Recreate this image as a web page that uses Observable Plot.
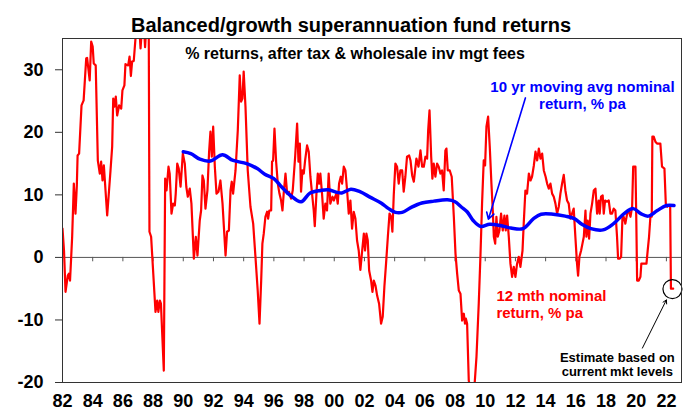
<!DOCTYPE html>
<html><head><meta charset="utf-8">
<script src="https://cdn.jsdelivr.net/npm/d3@7"></script>
<script src="https://cdn.jsdelivr.net/npm/@observablehq/plot@0.6"></script>
<style>
html,body{margin:0;padding:0;background:#fff;}
#chart svg{display:block;}
</style></head><body><div id="chart"></div>
<script>
// 12 month nominal return, % pa  [year, value]
const returns12m = [
[1982.00,4.6],[1982.10,1.1],[1982.20,-5.5],[1982.35,-2.9],[1982.42,-2.6],[1982.50,-3.7],[1982.64,3.3],[1982.75,11.8],[1982.86,7.0],[1982.95,11.5],
[1983.00,16.3],[1983.10,16.6],[1983.26,24.3],[1983.40,25.1],[1983.57,31.8],[1983.63,31.9],[1983.80,28.3],[1983.90,34.5],[1984.00,33.7],[1984.07,31.0],
[1984.20,30.7],[1984.34,15.5],[1984.47,13.4],[1984.56,15.3],[1984.65,12.3],[1984.74,14.7],[1984.96,6.7],[1985.18,13.9],[1985.29,17.7],[1985.36,25.4],
[1985.44,24.1],[1985.53,25.7],[1985.62,22.7],[1985.75,24.3],[1985.89,23.8],[1985.97,26.7],[1986.10,27.5],[1986.17,30.9],[1986.35,30.7],[1986.44,32.1],
[1986.53,29.0],[1986.61,31.3],[1986.72,31.4],[1986.85,35.5],[1986.95,39],[1987.08,37],[1987.17,33.4],[1987.27,37],[1987.37,38],[1987.47,33.6],
[1987.55,37],[1987.65,40],[1987.71,38],[1987.76,4.1],[1987.87,3.3],[1988.16,-8.7],[1988.27,-6.9],[1988.35,-8.7],[1988.45,-6.9],[1988.52,-7.4],
[1988.71,-18.1],[1988.80,12.6],[1988.89,10.7],[1989.02,14.5],[1989.10,13.4],[1989.22,7.0],[1989.33,8.6],[1989.44,8.3],[1989.50,10.2],[1989.60,15.0],
[1989.70,14.2],[1989.82,11.3],[1989.97,16.6],[1990.10,15.0],[1990.20,11.3],[1990.30,9.7],[1990.43,11.0],[1990.54,8.6],[1990.70,-0.2],[1990.83,3.3],
[1990.94,0.3],[1991.09,5.9],[1991.18,7.5],[1991.27,13.1],[1991.36,12.3],[1991.47,7.8],[1991.60,10.7],[1991.71,16.9],[1991.80,20.1],[1991.89,16.1],
[1991.98,20.9],[1992.09,14.5],[1992.20,10.2],[1992.33,10.5],[1992.46,12.3],[1992.60,8.6],[1992.80,0.3],[1992.90,4.1],[1993.02,4.3],[1993.13,10.7],
[1993.21,12.1],[1993.30,10.2],[1993.46,13.9],[1993.61,20.3],[1993.74,29.1],[1993.83,24.9],[1993.92,25.4],[1994.00,29.7],[1994.12,24.1],[1994.27,13.9],
[1994.45,8.1],[1994.63,5.4],[1994.78,0.1],[1994.93,-5.3],[1995.05,-10.6],[1995.16,-3.7],[1995.24,2.2],[1995.33,3.8],[1995.44,6.5],[1995.55,7.3],
[1995.62,6.2],[1995.70,7.5],[1995.82,7.5],[1995.88,15.3],[1995.95,15.5],[1996.04,20.6],[1996.15,15.3],[1996.26,11.8],[1996.37,10.2],[1996.48,9.1],
[1996.57,7.5],[1996.65,10.2],[1996.77,13.4],[1996.88,10.2],[1997.00,10.5],[1997.14,9.4],[1997.25,10.7],[1997.41,16.1],[1997.54,21.4],[1997.63,15.3],
[1997.72,18.2],[1997.80,10.5],[1997.89,13.9],[1997.98,13.4],[1998.07,15.5],[1998.20,17.9],[1998.31,16.9],[1998.42,12.9],[1998.53,10.2],[1998.64,7.5],
[1998.71,5.0],[1998.82,10.2],[1998.91,13.4],[1999.00,11.8],[1999.08,13.4],[1999.19,10.2],[1999.30,6.2],[1999.41,8.6],[1999.52,7.5],[1999.63,13.4],
[1999.74,8.6],[1999.88,9.7],[1999.97,9.1],[2000.14,10.2],[2000.23,8.6],[2000.32,11.8],[2000.43,12.9],[2000.52,11.8],[2000.63,14.5],[2000.74,13.9],
[2000.85,10.7],[2000.96,7.0],[2001.07,9.1],[2001.18,4.6],[2001.29,7.3],[2001.40,6.2],[2001.51,2.7],[2001.62,1.1],[2001.73,-2.0],[2001.85,1.1],
[2001.96,3.8],[2002.04,1.1],[2002.13,3.8],[2002.22,2.7],[2002.31,-2.1],[2002.44,-3.7],[2002.53,-5.5],[2002.62,-3.7],[2002.73,-4.5],[2002.84,-6.1],
[2002.97,-7.4],[2003.10,-10.6],[2003.21,-9.5],[2003.32,-4.7],[2003.43,-1.0],[2003.55,3.3],[2003.66,7.0],[2003.77,6.5],[2003.85,4.1],[2003.94,9.9],
[2004.05,15.0],[2004.16,14.5],[2004.27,11.8],[2004.38,13.9],[2004.50,13.9],[2004.60,10.5],[2004.71,12.9],[2004.82,16.1],[2004.96,16.3],[2005.05,15.5],
[2005.16,13.1],[2005.27,12.1],[2005.33,13.4],[2005.44,15.8],[2005.58,14.5],[2005.71,17.1],[2005.82,14.5],[2005.93,14.5],[2006.04,16.1],[2006.15,15.8],
[2006.22,20.3],[2006.31,23.5],[2006.42,16.1],[2006.50,12.6],[2006.59,15.0],[2006.70,12.9],[2006.81,15.0],[2006.92,14.5],[2007.03,13.4],[2007.14,13.9],
[2007.25,10.7],[2007.36,17.1],[2007.43,17.4],[2007.52,13.9],[2007.65,13.9],[2007.78,12.9],[2007.92,6.5],[2008.03,0.6],[2008.14,-2.6],[2008.25,-5.3],
[2008.36,-5.8],[2008.47,-10.1],[2008.58,-9.0],[2008.66,-10.6],[2008.72,-9.8],[2008.80,-10.6],[2008.91,-19.7],[2009.02,-21],[2009.13,-22],[2009.29,-20.5],
[2009.42,-15.9],[2009.57,-7.4],[2009.68,0],[2009.79,8.6],[2009.90,15.5],[2009.99,14.7],[2010.08,20.9],[2010.19,22.5],[2010.30,17.7],[2010.41,11.8],
[2010.50,7.5],[2010.57,3.3],[2010.66,2.2],[2010.74,6.5],[2010.83,3.3],[2010.94,4.3],[2011.05,7.0],[2011.16,4.3],[2011.27,6.7],[2011.36,4.3],
[2011.45,6.7],[2011.56,3.3],[2011.67,-1.0],[2011.78,-3.1],[2011.89,-1.5],[2012.00,-3.1],[2012.11,-1.0],[2012.22,0.1],[2012.33,-1.5],[2012.47,1.1],
[2012.55,5.4],[2012.66,10.7],[2012.77,10.2],[2012.89,13.4],[2013.00,12.3],[2013.10,12.9],[2013.22,14.7],[2013.33,16.9],[2013.44,15.5],[2013.55,17.4],
[2013.66,15.8],[2013.77,16.6],[2013.88,13.9],[2014.00,12.9],[2014.10,11.8],[2014.21,11.0],[2014.32,11.8],[2014.43,10.2],[2014.54,9.7],[2014.65,8.6],
[2014.76,7.0],[2014.87,8.1],[2014.98,10.2],[2015.09,11.8],[2015.20,13.2],[2015.31,10.7],[2015.42,9.1],[2015.53,8.6],[2015.64,6.2],[2015.75,7.0],
[2015.86,7.8],[2015.97,3.3],[2016.08,-1.0],[2016.15,-2.9],[2016.24,0.1],[2016.35,1.1],[2016.44,2.2],[2016.53,3.3],[2016.64,7.5],[2016.70,3.3],
[2016.79,5.9],[2016.88,3.0],[2016.97,7.0],[2017.08,8.6],[2017.19,10.7],[2017.30,11.0],[2017.41,7.0],[2017.52,9.1],[2017.58,7.0],[2017.67,9.7],
[2017.78,9.9],[2017.85,7.0],[2017.94,9.1],[2018.07,8.9],[2018.18,9.1],[2018.29,7.0],[2018.40,7.0],[2018.51,7.8],[2018.62,7.5],[2018.73,3.3],
[2018.80,-0.2],[2018.91,-0.2],[2019.00,0.1],[2019.09,6.5],[2019.17,6.5],[2019.28,5.4],[2019.40,7.0],[2019.50,7.5],[2019.62,6.5],[2019.73,8.1],
[2019.80,14.5],[2019.95,14.5],[2020.01,5.4],[2020.06,-3.7],[2020.17,-3.7],[2020.28,-3.1],[2020.34,-1.0],[2020.50,-1.0],[2020.68,-1.0],[2020.76,1.1],
[2020.85,3.3],[2020.94,6.5],[2021.03,6.5],[2021.07,19.3],[2021.16,19.3],[2021.27,18.5],[2021.38,18.2],[2021.60,18.2],[2021.71,14.5],[2021.87,14.2],
[2021.96,8.6],[2022.05,8.1],[2022.13,8.3],[2022.25,8.3],[2022.30,-5.0],[2022.45,-5.0]
];
// 10 yr moving avg nominal return, % pa  [year, value]
const avg10y = [
[1990.0,16.9],[1990.5,16.6],[1991.1,15.7],[1991.8,15.4],[1992.6,16.4],[1993.3,15.5],[1994.2,15.0],[1994.9,14.2],[1995.4,13.3],[1996.0,12.6],
[1996.5,11.3],[1997.1,9.9],[1997.8,8.9],[1998.4,10.3],[1999.1,10.7],[1999.6,10.8],[2000.2,10.4],[2000.5,10.3],[2001.1,10.9],[2001.7,10.5],
[2002.4,9.6],[2003.1,8.7],[2003.6,7.8],[2004.05,7.2],[2004.5,7.2],[2005.1,8.0],[2005.8,8.7],[2006.6,9.0],[2007.5,9.2],[2008.0,8.9],
[2008.4,8.1],[2008.8,7.3],[2009.2,5.9],[2009.7,4.95],[2010.3,5.3],[2011.0,5.1],[2011.7,4.7],[2012.5,4.6],[2013.2,6.2],[2013.7,6.9],
[2014.5,6.9],[2015.3,6.6],[2015.9,6.2],[2016.4,5.3],[2017.0,4.6],[2017.8,4.4],[2018.5,5.4],[2019.2,7.0],[2019.8,7.8],[2020.3,7.0],
[2020.8,6.6],[2021.4,7.5],[2022.0,8.3],[2022.5,8.3]
];
const estimatePoint = [[2022.4, -5.07]];
const xTickYears = d3.range(1982, 2023, 2);
const yTickValues = [-20, -10, 0, 10, 20, 30];
const titleText = "Balanced/growth superannuation fund returns";
const subtitleText = "% returns, after tax & wholesale inv mgt fees";
const avgLabel = "10 yr moving avg nominal\nreturn, % pa";
const retLabel = "12 mth nominal\nreturn, % pa";
const estLabel = "Estimate based on\ncurrent mkt levels";

const font = "'Liberation Sans', Arial, Helvetica, sans-serif";
const X = d => d[0], Y = d => d[1];

const chart = Plot.plot({
  width: 693, height: 412,
  marginTop: 38, marginBottom: 30, marginLeft: 62, marginRight: 12,
  style: {fontFamily: font, background: "white", overflow: "visible"},
  x: {domain: [1982, 2023]},
  y: {domain: [-20, 35]},
  marks: [
    Plot.ruleY([0], {stroke: "#555", strokeWidth: 1}),
    Plot.ruleX(xTickYears, {x: d => d, y1: 0, y2: -0.7, stroke: "#555", strokeWidth: 1}),
    Plot.line(returns12m, {x: X, y: Y, stroke: "#ff0000", strokeWidth: 2.2, clip: true}),
    Plot.line(avg10y, {x: X, y: Y, stroke: "#0000ff", strokeWidth: 3.5, curve: "catmull-rom"}),
    Plot.dot(estimatePoint, {x: X, y: Y, r: 9.5, stroke: "black", strokeWidth: 1.2, fill: "none"}),
    Plot.arrow([{x1: 2012.66, y1: 25.5, x2: 2010.21, y2: 6.1}], {x1: "x1", y1: "y1", x2: "x2", y2: "y2", stroke: "#0000ff", strokeWidth: 1.6, headLength: 7}),
    Plot.arrow([{x1: 2020.41, y1: -14.5, x2: 2022.0, y2: -6.8}], {x1: "x1", y1: "y1", x2: "x2", y2: "y2", stroke: "black", strokeWidth: 1, headLength: 6}),
    Plot.text([avgLabel], {x: 2016.44, y: 23.7, text: d => d, lineAnchor: "bottom", lineHeight: 1.13, fontSize: 15, fontWeight: "bold", fill: "#0000ff"}),
    Plot.text([retLabel], {x: 2010.74, y: -9.7, text: d => d, textAnchor: "start", lineAnchor: "bottom", lineHeight: 1.13, fontSize: 15, fontWeight: "bold", fill: "#ff0000"}),
    Plot.text([estLabel], {x: 2018.75, y: -19.0, text: d => d, lineAnchor: "bottom", lineHeight: 1.1, fontSize: 13, fontWeight: "bold", fill: "black"}),
    Plot.text([titleText], {frameAnchor: "top", text: d => d, dx: -21, dy: -6.5, lineAnchor: "bottom", fontSize: 20, fontWeight: "bold", fill: "black"}),
    Plot.text([subtitleText], {frameAnchor: "top", text: d => d, dx: -17, dy: 20, lineAnchor: "bottom", fontSize: 16, fontWeight: "bold", fill: "black"}),
    Plot.axisY(yTickValues, {anchor: "left", tickSize: 7, tickPadding: 12, fontSize: 18, fontWeight: "bold", tickFormat: d => String(d), stroke: "#333", label: null}),
    Plot.axisX(xTickYears, {anchor: "bottom", tickSize: 0, tickPadding: 12, fontSize: 18, fontWeight: "bold", tickFormat: d => String(d).slice(2), label: null}),
    Plot.frame({stroke: "#333", strokeWidth: 1})
  ]
});
document.getElementById("chart").appendChild(chart);
</script>
</body></html>
